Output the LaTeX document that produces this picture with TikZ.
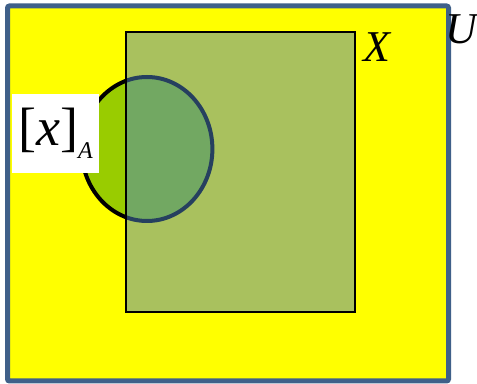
\documentclass[tikz,border=0pt]{standalone}
\usepackage{fontspec}
\setmainfont{Liberation Serif}
\usepackage{xcolor}
\usepackage{tikz}

\definecolor{cadre}{HTML}{3F6089}
\definecolor{jaune}{HTML}{FFFF00}
\definecolor{olive}{HTML}{A9C15E}
\definecolor{vertclair}{HTML}{99CC00}
\definecolor{vertfonce}{HTML}{72A862}
\definecolor{marine}{HTML}{26405F}

\begin{document}
\begin{tikzpicture}[
    x=0.5pt, y=-0.5pt,
    univers/.style={draw=cadre, fill=jaune, line width=2.5pt, rounded corners=1pt},
    ensemble/.style={draw=black, line width=1pt},
    classe/.style={line width=2pt},
    nom/.style={inner sep=0pt, font=\fontsize{22}{25}\selectfont\itshape},
  ]
  \useasboundingbox (0,0) rectangle (477,384);
  \draw[univers] (7.5,6) rectangle (448.5,381);
  \fill[olive] (125.5,32) rectangle (355,312);
  % la classe [x]_A, en deux morceaux
  \begin{scope}
    \clip (0,0) rectangle (125.5,384);
    \draw[classe, draw=black, fill=vertclair] (147,149) ellipse [x radius=32.7pt, y radius=36pt];
  \end{scope}
  \begin{scope}
    \clip (125.5,0) rectangle (477,384);
    \draw[classe, draw=marine, fill=vertfonce] (147,149) ellipse [x radius=32.7pt, y radius=36pt];
  \end{scope}
  \draw[ensemble] (125.5,32) rectangle (355,312);
  \node[fill=white, minimum width=43.5pt, minimum height=39.5pt, inner sep=0pt] (classe) at (55.5,133.5)
    {{\fontsize{27}{30}\selectfont[\textit{x}]}\raisebox{-6.5pt}{\fontsize{12}{12}\selectfont\textit{A}}};
  \node[nom] (X) at (376.5,47.5) {X};
  \node[nom] (U) at (461.5,29.5) {U};
\end{tikzpicture}
\end{document}
